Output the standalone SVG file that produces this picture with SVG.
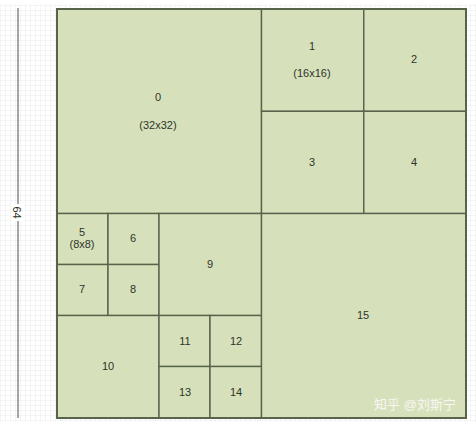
<svg xmlns="http://www.w3.org/2000/svg" width="476" height="426" viewBox="0 0 476 426">
<defs>
<pattern id="grid" width="5" height="5" patternUnits="userSpaceOnUse">
<path d="M5 0H0V5" fill="none" stroke="#e2e2e2" stroke-width="0.7"/>
</pattern>
<style>
.b{fill:#d6e1bc;stroke:#58634c;stroke-width:1.4}
.t{font-family:"Liberation Sans",Arial,sans-serif;font-size:11px;fill:#2e3328;text-anchor:middle;dominant-baseline:central}
.w{font-family:"Liberation Sans","Noto Sans CJK SC",sans-serif;font-size:13px;fill:#f6f7f2;text-anchor:middle;dominant-baseline:central}
</style>
</defs>
<rect width="476" height="426" fill="#ffffff"/>
<rect x="0" y="4" width="476" height="418" fill="url(#grid)"/>
<g id="ruler">
<line x1="18" y1="8" x2="18" y2="418" stroke="#6a6a6a" stroke-width="1.2"/>
<rect x="11" y="204" width="14" height="17" fill="#ffffff"/>
<text class="t" transform="translate(17 212.5) rotate(90)">64</text>
</g>
<g id="n0"><rect class="b" x="57" y="9" width="204.5" height="204.5"/><text class="t" x="158" y="97">0</text><text class="t" x="158" y="125">(32x32)</text></g>
<g id="n1"><rect class="b" x="261.5" y="9" width="102.3" height="102.3"/><text class="t" x="312" y="46">1</text><text class="t" x="312" y="73">(16x16)</text></g>
<g id="n2"><rect class="b" x="363.8" y="9" width="102.2" height="102.3"/><text class="t" x="414" y="59">2</text></g>
<g id="n3"><rect class="b" x="261.5" y="111.3" width="102.3" height="102.2"/><text class="t" x="312" y="162">3</text></g>
<g id="n4"><rect class="b" x="363.8" y="111.3" width="102.2" height="102.2"/><text class="t" x="414" y="162">4</text></g>
<g id="n5"><rect class="b" x="57" y="213.5" width="51" height="51"/><text class="t" x="82" y="232">5</text><text class="t" x="82" y="244">(8x8)</text></g>
<g id="n6"><rect class="b" x="108" y="213.5" width="51" height="51"/><text class="t" x="133" y="238">6</text></g>
<g id="n7"><rect class="b" x="57" y="264.5" width="51" height="51"/><text class="t" x="82" y="289">7</text></g>
<g id="n8"><rect class="b" x="108" y="264.5" width="51" height="51"/><text class="t" x="133" y="289">8</text></g>
<g id="n9"><rect class="b" x="159" y="213.5" width="102.5" height="102"/><text class="t" x="210" y="264">9</text></g>
<g id="n10"><rect class="b" x="57" y="315.5" width="102" height="102.5"/><text class="t" x="108" y="366">10</text></g>
<g id="n11"><rect class="b" x="159" y="315.5" width="51" height="51"/><text class="t" x="185" y="341">11</text></g>
<g id="n12"><rect class="b" x="210" y="315.5" width="51.5" height="51"/><text class="t" x="236" y="341">12</text></g>
<g id="n13"><rect class="b" x="159" y="366.5" width="51" height="51.5"/><text class="t" x="185" y="392">13</text></g>
<g id="n14"><rect class="b" x="210" y="366.5" width="51.5" height="51.5"/><text class="t" x="236" y="392">14</text></g>
<g id="n15"><rect class="b" x="261.5" y="213.5" width="204.5" height="204.5"/><text class="t" x="363" y="315">15</text></g>
<g id="connectors"></g>
<rect x="57" y="9" width="409" height="409" fill="none" stroke="#58634c" stroke-width="2"/>
<text class="w" x="415" y="404">知乎 @刘斯宁</text>
</svg>
